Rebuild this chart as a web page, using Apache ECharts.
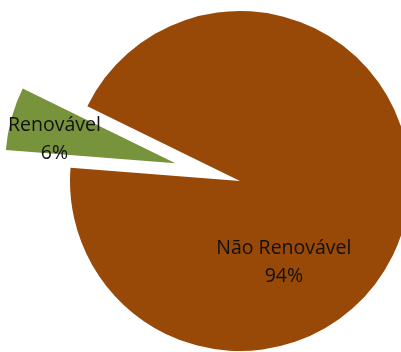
<!DOCTYPE html>
<html>
<head>
<meta charset="utf-8">
<style>
  html, body { margin: 0; padding: 0; background: #ffffff; }
  #chart { width: 401px; height: 352px; }
</style>
<script src="https://cdn.jsdelivr.net/npm/echarts@6/dist/echarts.min.js"></script>
</head>
<body>
<div id="chart"></div>
<script>
// Energy sources share
const categories = ['Renovável', 'Não Renovável'];
const shares = [6, 94];
const sliceColors = ['#77933C', '#984807'];

// Extra nudges for the in-slice labels, per category
const labelShift = [[-36, -1], [-41, 58]];

const chart = echarts.init(document.getElementById('chart'), null, { renderer: 'canvas' });

chart.setOption({
  animation: false,
  series: [{
    type: 'pie',
    center: [240, 181],
    radius: 170,
    startAngle: 175.5,
    clockwise: true,
    selectedMode: 'single',
    selectedOffset: 67,
    avoidLabelOverlap: false,
    emphasis: { disabled: true },
    data: categories.map((name, i) => ({
      name,
      value: shares[i],
      selected: i === 0,
      itemStyle: { color: sliceColors[i] }
    })),
    label: {
      show: true,
      position: 'inside',
      formatter: (p) => p.name + '\n' + p.value + '%',
      color: '#111111',
      fontFamily: 'Open Sans',
      fontSize: 19.5,
      lineHeight: 28,
      align: 'center'
    },
    labelLine: { show: false },
    labelLayout: (params) => {
      const s = labelShift[params.dataIndex];
      return { dx: s[0], dy: s[1] };
    }
  }]
});
</script>
</body>
</html>
